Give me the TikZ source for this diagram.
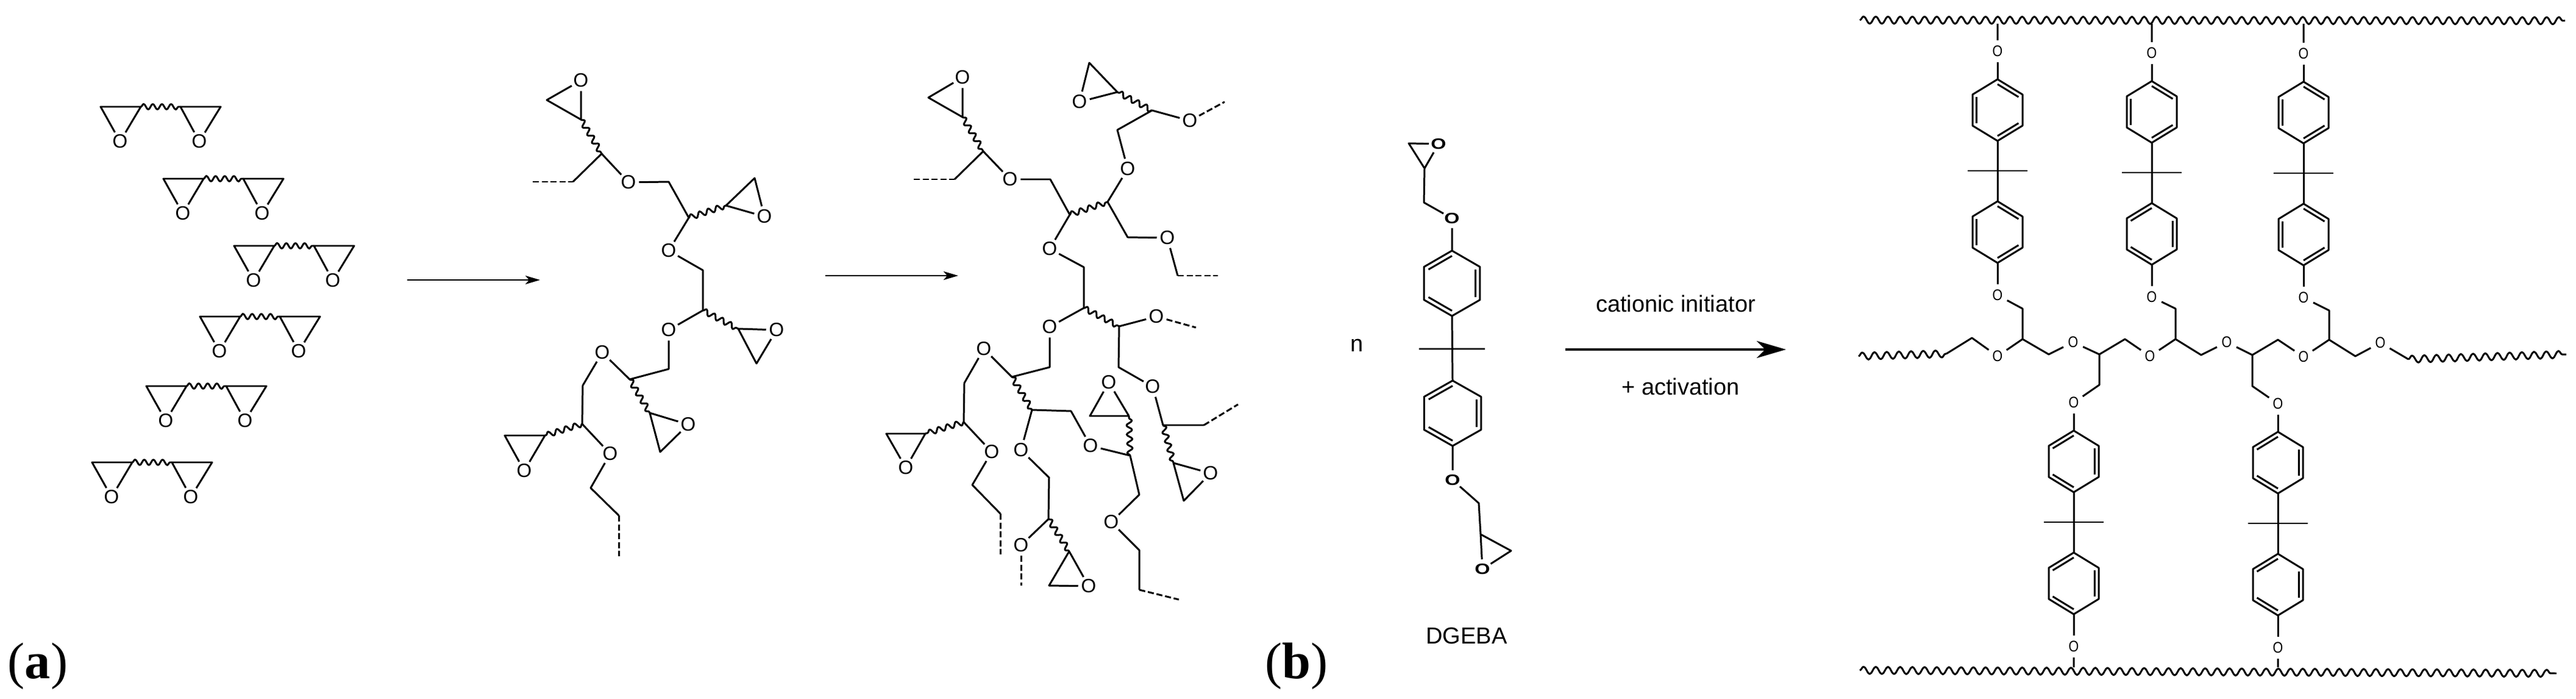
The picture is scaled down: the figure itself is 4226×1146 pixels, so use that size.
\documentclass[tikz,border=0pt]{standalone}
\usepackage{fontspec}
\setmainfont{Liberation Serif}
\newfontfamily\chemfont{Liberation Sans}
\usepackage{tikz}
\usetikzlibrary{calc,decorations.pathmorphing,arrows.meta}
\newcommand{\Osq}{\scalebox{.68}[.8]{O}}
\newcommand{\Owd}{\scalebox{1.02}[.78]{\bfseries O}}
\tikzset{
  bond/.style={line width=.85pt,line join=round},
  wavy/.style={bond,decorate,decoration={snake,segment length=.15cm,amplitude=.045cm}},
  longwavy/.style={bond,decorate,decoration={snake,segment length=.2cm,amplitude=.06cm}},
  dashbond/.style={bond,dash pattern=on .1cm off .045cm},
  oxy/.style={circle,inner sep=0pt,font=\chemfont\fontsize{9}{9}\selectfont},
  oxyb/.style={circle,inner sep=1pt,font=\chemfont\fontsize{9}{9}\selectfont},
  oxym/.style={circle,inner sep=0pt,font=\chemfont\fontsize{9}{9}\selectfont},
  lbl/.style={inner sep=0pt,font=\chemfont\fontsize{10.8}{12}\selectfont},
  plabel/.style={inner sep=0pt,anchor=base west,font=\fontsize{24}{28}\selectfont},
  rxn/.style={bond,-{Stealth[length=.24cm,width=.14cm,inset=.06cm]}},
  rxnbig/.style={line width=.95pt,-{Stealth[length=.48cm,width=.28cm,inset=.14cm]}}
}
% one aromatic ring: name, x, y of top corner, side of the double bonds, x and y factor
\newcommand{\phring}[6]{
  \coordinate (#1t) at (#2,#3);
  \coordinate (#1c) at (#2,#3+50.5*#6);
  \coordinate (#1ur) at (#2+41*#5,#3+25*#6);
  \coordinate (#1lr) at (#2+41*#5,#3+76*#6);
  \coordinate (#1b) at (#2,#3+101*#6);
  \coordinate (#1ll) at (#2-41*#5,#3+76*#6);
  \coordinate (#1ul) at (#2-41*#5,#3+25*#6);
  \draw[bond] (#1t) to (#1ur) to (#1lr) to (#1b) to (#1ll) to (#1ul) to (#1t);
  \ifnum#4>0
    \draw[bond] ($(#1c)!.84!(#1t)$) to ($(#1c)!.84!(#1ur)$)
      ($(#1c)!.84!(#1ul)$) to ($(#1c)!.84!(#1ll)$)
      ($(#1c)!.84!(#1lr)$) to ($(#1c)!.84!(#1b)$);
  \else
    \draw[bond] ($(#1c)!.84!(#1t)$) to ($(#1c)!.84!(#1ul)$)
      ($(#1c)!.84!(#1ur)$) to ($(#1c)!.84!(#1lr)$)
      ($(#1c)!.84!(#1ll)$) to ($(#1c)!.84!(#1b)$);
  \fi
}
% bisphenol part between its two O: name, x, y, sides of the two rings
\newcommand{\bpa}[5]{
  \node (#1o) at (#2,#3-46) [oxyb] {\Osq};
  \phring{#1a}{#2}{#3}{#4}{1}{1}
  \phring{#1d}{#2}{#3+200}{#5}{1}{1}
  \coordinate (#1m) at (#2,#3+150);
  \coordinate (#1w) at (#2-49,#3+150);
  \coordinate (#1e) at (#2+49,#3+150);
  \node (#1p) at (#2,#3+354) [oxyb] {\Osq};
  \draw[bond] (#1o) to (#1at) (#1ab) to (#1dt) (#1w) to (#1e) (#1db) to (#1p);
}
\begin{document}
\begin{tikzpicture}[x=.01cm,y=-.01cm]
  \useasboundingbox (0,0) rectangle (4226,1146);

  % six monomers on the left
  \foreach \m/\x/\y in {a/197/232,b/300/350,c/416/460,d/360/576,e/272/690,f/183/815} {
    \node (\m1) at (\x,\y) [oxy] {O};
    \node (\m2) at (\x+130,\y) [oxy] {O};
    \coordinate (\m l) at (\x-32,\y-57);
    \coordinate (\m i) at (\x+34,\y-57);
    \coordinate (\m j) at (\x+99,\y-57);
    \coordinate (\m r) at (\x+165,\y-57);
    \draw[bond] (\m1) to (\m l) to (\m i) to (\m1) (\m2) to (\m j) to (\m r) to (\m2);
    \draw[wavy] (\m i) to (\m j);
  }

  \coordinate (ar1s) at (668,459);
  \coordinate (ar1e) at (886,459);
  \draw[rxn] (ar1s) to (ar1e);

  % growing chain
  \node (g1) at (953,132) [oxy] {O};
  \node (g2) at (1031,299) [oxy] {O};
  \node (g3) at (1254,355) [oxy] {O};
  \node (g4) at (1097,411) [oxy] {O};
  \node (g5) at (1097,541) [oxy] {O};
  \node (g6) at (1274,541) [oxy] {O};
  \node (g7) at (988,578) [oxy] {O};
  \node (g8) at (1129,696) [oxy] {O};
  \node (g9) at (860,772) [oxy] {O};
  \node (g10) at (1001,744) [oxy] {O};
  \coordinate (ga) at (897,164);
  \coordinate (gb) at (953,196);
  \coordinate (gc) at (987,252);
  \coordinate (gd) at (874,298);
  \coordinate (ge) at (940,298);
  \coordinate (gf) at (1097,298);
  \coordinate (gg) at (1130,357);
  \coordinate (gh) at (1191,337);
  \coordinate (gi) at (1238,292);
  \coordinate (gj) at (1153,443);
  \coordinate (gk) at (1153,509);
  \coordinate (gl) at (1211,539);
  \coordinate (gm) at (1241,596);
  \coordinate (gn) at (1097,605);
  \coordinate (go) at (1033,622);
  \coordinate (gp) at (1066,677);
  \coordinate (gq) at (1083,741);
  \coordinate (gr) at (956,632);
  \coordinate (gs) at (955,695);
  \coordinate (gt) at (894,714);
  \coordinate (gu) at (828,714);
  \coordinate (gv) at (969,800);
  \coordinate (gw) at (1015,845);
  \coordinate (gx) at (1015,912);
  \draw[bond]
    (g1) to (ga) to (gb) to (g1)
    (ge) to (gc) to (g2) to (gf) to (gg) to (g4) to (gj) to (gk) to (g5) to (gn) to (go) to (g7) to (gr) to (gs) to (g10) to (gv) to (gw)
    (gh) to (gi) to (g3) to (gh)
    (gl) to (g6) to (gm) to (gl)
    (gp) to (g8) to (gq) to (gp)
    (gt) to (gu) to (g9) to (gt);
  \draw[dashbond] (gd) to (ge);
  \draw[dashbond] (gw) to (gx);
  \draw[wavy] (gb) to (gc);
  \draw[wavy] (gg) to (gh);
  \draw[wavy] (gk) to (gl);
  \draw[wavy] (go) to (gp);
  \draw[wavy] (gs) to (gt);

  \coordinate (ar2s) at (1354,452);
  \coordinate (ar2e) at (1572,452);
  \draw[rxn] (ar2s) to (ar2e);

  % network
  \node (h1) at (1579,127) [oxy] {O};
  \node (h2) at (1657,294) [oxy] {O};
  \node (h3) at (1850,277) [oxy] {O};
  \node (h4) at (1771,167) [oxy] {O};
  \node (h5) at (1952,198) [oxy] {O};
  \node (h6) at (1915,390) [oxy] {O};
  \node (h7) at (1722,408) [oxy] {O};
  \node (h8) at (1897,519) [oxy] {O};
  \node (h9) at (1891,634) [oxy] {O};
  \node (h10) at (1986,776) [oxy] {O};
  \node (h11) at (1722,536) [oxy] {O};
  \node (h12) at (1614,572) [oxy] {O};
  \node (h13) at (1486,767) [oxy] {O};
  \node (h14) at (1627,741) [oxy] {O};
  \node (h15) at (1789,731) [oxy] {O};
  \node (h16) at (1819,627) [oxy] {O};
  \node (h17) at (1823,856) [oxy] {O};
  \node (h18) at (1675,738) [oxy] {O};
  \node (h19) at (1675,894) [oxy] {O};
  \node (h20) at (1786,961) [oxy] {O};
  \coordinate (ka) at (1523,160);
  \coordinate (kb) at (1579,192);
  \coordinate (kc) at (1613,248);
  \coordinate (kd) at (1566,294);
  \coordinate (ke) at (1499,294);
  \coordinate (kf) at (1723,294);
  \coordinate (kg) at (1755,352);
  \coordinate (kh) at (1817,331);
  \coordinate (ki) at (1833,213);
  \coordinate (kj) at (1890,181);
  \coordinate (kk) at (1833,151);
  \coordinate (kl) at (1787,103);
  \coordinate (km) at (2009,167);
  \coordinate (kn) at (1850,389);
  \coordinate (ko) at (1932,452);
  \coordinate (kp) at (1998,452);
  \coordinate (kq) at (1778,438);
  \coordinate (kr) at (1778,505);
  \coordinate (ks) at (1836,535);
  \coordinate (kt) at (1962,537);
  \coordinate (ku) at (1835,602);
  \coordinate (kv) at (1908,697);
  \coordinate (kw) at (1975,697);
  \coordinate (kx) at (2031,663);
  \coordinate (ky) at (1925,759);
  \coordinate (kz) at (1942,821);
  \coordinate (la) at (1722,602);
  \coordinate (lb) at (1660,618);
  \coordinate (lc) at (1582,628);
  \coordinate (ld) at (1581,692);
  \coordinate (le) at (1518,711);
  \coordinate (lf) at (1454,711);
  \coordinate (lg) at (1595,795);
  \coordinate (lh) at (1641,842);
  \coordinate (li) at (1641,909);
  \coordinate (lj) at (1693,672);
  \coordinate (lk) at (1757,674);
  \coordinate (ll) at (1854,747);
  \coordinate (lm) at (1852,682);
  \coordinate (ln) at (1788,682);
  \coordinate (lo) at (1869,811);
  \coordinate (lp) at (1869,902);
  \coordinate (lq) at (1869,967);
  \coordinate (lr) at (1934,983);
  \coordinate (ls) at (1721,783);
  \coordinate (lt) at (1720,851);
  \coordinate (lu) at (1675,960);
  \coordinate (lv) at (1754,904);
  \coordinate (lw) at (1721,960);
  \draw[bond]
    (h1) to (ka) to (kb) to (h1)
    (kd) to (kc) to (h2) to (kf) to (kg) to (h7) to (kq) to (kr) to (h11) to (la) to (lb) to (h12) to (lc) to (ld) to (h14) to (lg) to (lh)
    (kh) to (h3) to (ki) to (kj) to (h5)
    (kk) to (kl) to (h4) to (kk)
    (kh) to (kn) to (h6) to (ko)
    (ks) to (h8)
    (ks) to (ku) to (h9) to (kv) to (kw)
    (ky) to (h10) to (kz) to (ky)
    (le) to (lf) to (h13) to (le)
    (lj) to (lk) to (h15) to (ll) to (lo) to (h17) to (lp) to (lq)
    (lm) to (ln) to (h16) to (lm)
    (lj) to (h18) to (ls) to (lt) to (h19)
    (lv) to (h20) to (lw) to (lv);
  \draw[dashbond] (ke) to (kd);
  \draw[dashbond] (h5) to (km);
  \draw[dashbond] (ko) to (kp);
  \draw[dashbond] (h8) to (kt);
  \draw[dashbond] (kw) to (kx);
  \draw[dashbond] (lh) to (li);
  \draw[dashbond] (lq) to (lr);
  \draw[dashbond] (h19) to (lu);
  \draw[wavy] (kb) to (kc);
  \draw[wavy] (kg) to (kh);
  \draw[wavy] (kj) to (kk);
  \draw[wavy] (kr) to (ks);
  \draw[wavy] (kv) to (ky);
  \draw[wavy] (ld) to (le);
  \draw[wavy] (lb) to (lj);
  \draw[wavy] (ll) to (lm);
  \draw[wavy] (lt) to (lv);

  % DGEBA
  \node (n) at (2226,566) [lbl] {n};
  \node (m1) at (2360,236) [oxym] {\Owd};
  \node (m2) at (2382,358) [oxym] {\Owd};
  \node (m3) at (2383,787) [oxym] {\Owd};
  \node (m4) at (2432,933) [oxym] {\Owd};
  \coordinate (mk) at (2311,235);
  \coordinate (ml) at (2337,276);
  \coordinate (mn) at (2336,332);
  \coordinate (mo) at (2426,825);
  \coordinate (mp) at (2429,876);
  \coordinate (mq) at (2479,903);
  \coordinate (mc) at (2382,572);
  \coordinate (mw) at (2328,572);
  \coordinate (me) at (2436,572);
  \phring{mr}{2382}{411}{-1}{1.12}{1.06}
  \phring{ms}{2383}{624}{-1}{1.14}{1.06}
  \draw[bond]
    (m1) to (mk) to (ml) to (m1)
    (ml) to (mn) to (m2) to (mrt)
    (mrb) to (mst) (mw) to (me)
    (msb) to (m3) to (mo) to (mp) to (m4) to (mq) to (mp);
  \node (dgeba) at (2406,1042) [lbl] {DGEBA};
  \node (cat) at (2749,498) [lbl] {cationic initiator};
  \node (act) at (2757,634) [lbl] {+ activation};
  \coordinate (ar3s) at (2568,573);
  \coordinate (ar3e) at (2930,573);
  \draw[rxnbig] (ar3s) to (ar3e);

  % cured network
  \bpa{p}{3277}{130}{1}{1}
  \bpa{q}{3530}{133}{1}{-1}
  \bpa{r}{3779}{134}{1}{1}
  \bpa{s}{3402}{706}{-1}{-1}
  \bpa{u}{3737}{708}{-1}{-1}
  \node (b1) at (3277,584) [oxyb] {\Osq};
  \node (b2) at (3401,561) [oxyb] {\Osq};
  \node (b3) at (3527,584) [oxyb] {\Osq};
  \node (b4) at (3653,561) [oxyb] {\Osq};
  \node (b5) at (3779,585) [oxyb] {\Osq};
  \node (b6) at (3905,562) [oxyb] {\Osq};
  \coordinate (ts) at (3051,33);
  \coordinate (te) at (4208,34);
  \coordinate (bs) at (3051,1099);
  \coordinate (be) at (4194,1104);
  \coordinate (tp) at (3277,39);
  \coordinate (tq) at (3530,39);
  \coordinate (tr) at (3779,39);
  \coordinate (bs1) at (3402,1094);
  \coordinate (bu1) at (3737,1094);
  \coordinate (wls) at (3049,584);
  \coordinate (wle) at (3193,580);
  \coordinate (c1) at (3235,554);
  \coordinate (c2) at (3318,556);
  \coordinate (c3) at (3361,581);
  \coordinate (c4) at (3444,581);
  \coordinate (c5) at (3486,556);
  \coordinate (c6) at (3569,556);
  \coordinate (c7) at (3611,582);
  \coordinate (c8) at (3695,582);
  \coordinate (c9) at (3737,557);
  \coordinate (c10) at (3821,557);
  \coordinate (c11) at (3864,584);
  \coordinate (wrs) at (3951,589);
  \coordinate (wre) at (4210,581);
  \coordinate (d1) at (3318,506);
  \coordinate (d2) at (3569,506);
  \coordinate (d3) at (3821,509);
  \coordinate (d4) at (3444,631);
  \coordinate (d5) at (3695,633);
  \draw[longwavy] (ts) to (te);
  \draw[longwavy] (bs) to (be);
  \draw[longwavy] (wls) to (wle);
  \draw[longwavy] (wrs) to (wre);
  \draw[bond]
    (tp) to (po) (tq) to (qo) (tr) to (ro)
    (wle) to (c1) to (b1) to (c2) to (c3) to (b2) to (c4) to (c5) to (b3) to (c6) to (c7) to (b4) to (c8) to (c9) to (b5) to (c10) to (c11) to (b6) to (wrs)
    (pp) to (d1) to (c2)
    (qp) to (d2) to (c6)
    (rp) to (d3) to (c10)
    (c4) to (d4) to (so)
    (c8) to (d5) to (uo)
    (sp) to (bs1) (up) to (bu1);

  \node (alabel) at (12,1112) [plabel] {(\textbf{a})};
  \node (blabel) at (2075,1112) [plabel] {(\textbf{b})};
\end{tikzpicture}
\end{document}
